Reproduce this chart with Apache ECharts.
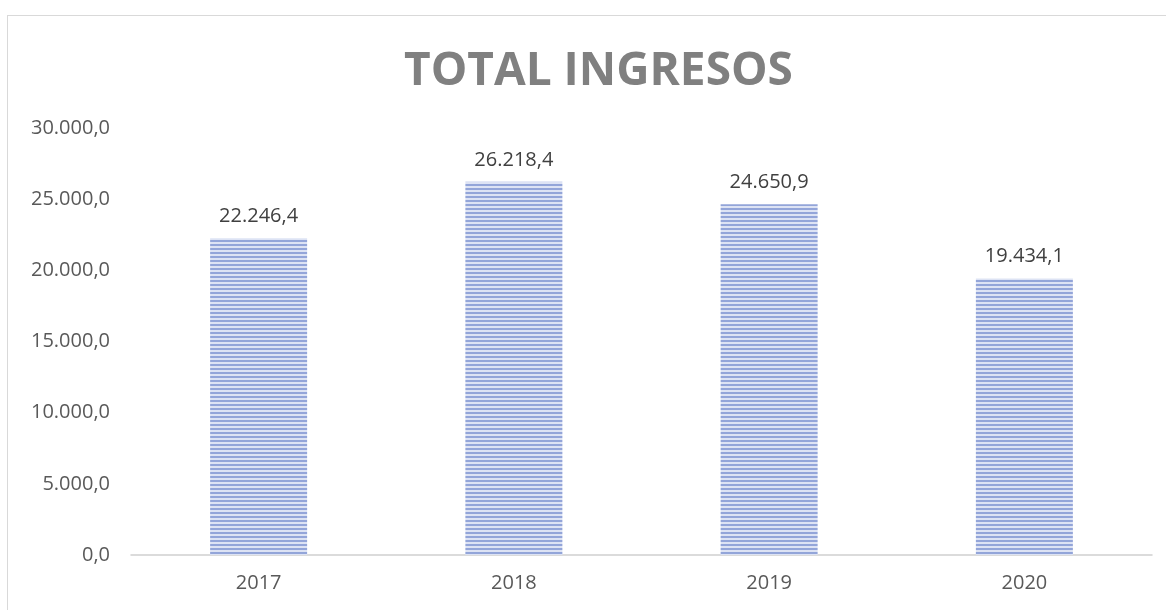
<!DOCTYPE html>
<html>
<head>
<meta charset="utf-8">
<script src="https://cdn.jsdelivr.net/npm/echarts@6/dist/echarts.min.js"></script>
<style>
	html, body { margin: 0; padding: 0; background: #fff; }
	#frame {
		position: absolute; left: 7px; top: 15px; width: 1300px; height: 700px;
		border: 1px solid #d9d9d9; box-sizing: border-box;
	}
	#chart { position: absolute; left: 0; top: 0; width: 1166px; height: 610px; }
</style>
</head>
<body>
<div id="frame"></div>
<div id="chart"></div>
<script>
const years = ['2017', '2018', '2019', '2020'];
const ingresos = [22246.4, 26218.4, 24650.9, 19434.1];

// formato español: 22.246,4
const fmt = (v) => {
	const [ent, dec] = Number(v).toFixed(1).split('.');
	return ent.replace(/\B(?=(\d{3})+(?!\d))/g, '.') + ',' + dec;
};

// textura de rayas horizontales para las barras
const makeStripes = () => {
	const c = document.createElement('canvas');
	c.width = 4;
	c.height = 4;
	const ctx = c.getContext('2d');
	ctx.fillStyle = '#dde3f4';
	ctx.fillRect(0, 0, 4, 4);
	ctx.fillStyle = '#93a5d9';
	ctx.fillRect(0, 0, 4, 2);
	return c;
};

const chart = echarts.init(document.getElementById('chart'));

chart.setOption({
	animation: false,
	title: {
		text: 'TOTAL INGRESOS',
		left: 399,
		top: 44,
		textStyle: { fontFamily: 'Open Sans', fontSize: 46, fontWeight: 'bold', color: '#808080' },
	},
	grid: { left: 131, right: 14, top: 128, bottom: 55 },
	xAxis: {
		type: 'category',
		data: years,
		axisLine: { lineStyle: { color: '#d0d0d0', width: 1.5 } },
		axisTick: { show: false },
		axisLabel: { fontFamily: 'Open Sans', fontSize: 20, color: '#595959', margin: 18 },
	},
	yAxis: {
		type: 'value',
		min: 0,
		max: 30000,
		interval: 5000,
		axisLine: { show: false },
		axisTick: { show: false },
		splitLine: { show: false },
		axisLabel: {
			fontFamily: 'Open Sans', fontSize: 20, color: '#595959', margin: 21,
			formatter: fmt,
		},
	},
	series: [{
		type: 'bar',
		data: ingresos,
		barWidth: '38%',
		itemStyle: { color: { image: makeStripes(), repeat: 'repeat' } },
		label: {
			show: true,
			position: 'top',
			distance: 12,
			fontFamily: 'Open Sans',
			fontSize: 20,
			color: '#404040',
			formatter: (p) => fmt(p.value),
		},
	}],
});
</script>
</body>
</html>
